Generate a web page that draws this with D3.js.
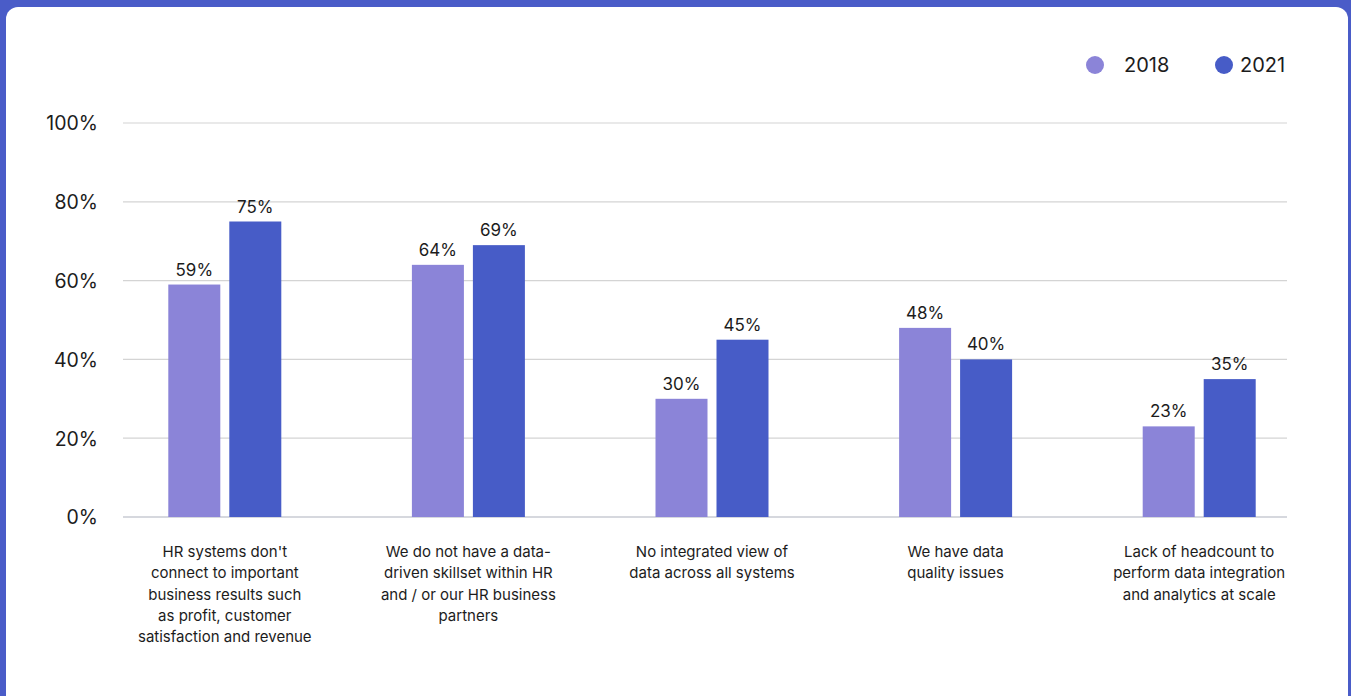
<!DOCTYPE html>
<html>
<head>
<meta charset="utf-8">
<script src="https://cdn.jsdelivr.net/npm/d3@7"></script>
<style>
  html, body { margin: 0; padding: 0; background: #4a5cc8; }
  svg { display: block; }
  text { font-family: Inter, "Noto Sans", sans-serif; fill: #1c1c1c; }
</style>
</head>
<body>
<svg id="chart" width="1351" height="696"></svg>
<script>
// Survey: barriers to HR data analytics, share of respondents
const categories = [
  "HR systems don't connect to important business results such as profit, customer satisfaction and revenue",
  "We do not have a data-driven skillset within HR and / or our HR business partners",
  "No integrated view of data across all systems",
  "We have data quality issues",
  "Lack of headcount to perform data integration and analytics at scale"
];
const categoryLines = [
  ["HR systems don't", "connect to important", "business results such", "as profit, customer", "satisfaction and revenue"],
  ["We do not have a data-", "driven skillset within HR", "and / or our HR business", "partners"],
  ["No integrated view of", "data across all systems"],
  ["We have data", "quality issues"],
  ["Lack of headcount to", "perform data integration", "and analytics at scale"]
];
const seriesNames = ["2018", "2021"];
const values2018 = [59, 64, 30, 48, 23];
const values2021 = [75, 69, 45, 40, 35];
const yTicks = [0, 20, 40, 60, 80, 100];
const colors = ["#8b84d8", "#475cc7"];

const svg = d3.select("#chart");
const W = 1351, H = 696;

// white card on the blue frame
svg.append("rect")
  .attr("x", 6).attr("y", 7)
  .attr("width", 1342).attr("height", H + 20)
  .attr("rx", 12).attr("ry", 12)
  .attr("fill", "#ffffff");

const plot = { left: 123, right: 1287, top: 123, bottom: 517 };

const y = d3.scaleLinear().domain([0, 100]).range([plot.bottom, plot.top]);
const x0 = d3.scaleBand().domain(categories).range([103, 1321]).paddingInner(0).paddingOuter(0);
const x1 = d3.scaleBand().domain(seriesNames).range([-56.5, 56.5]).paddingInner(0.1475).paddingOuter(0);
const color = d3.scaleOrdinal().domain(seriesNames).range(colors);

// gridlines
const grid = svg.append("g").attr("class", "grid");
grid.selectAll("line").data(yTicks).join("line")
  .attr("x1", plot.left).attr("x2", plot.right)
  .attr("y1", d => y(d)).attr("y2", d => y(d))
  .attr("stroke", d => d === 0 ? "#c8cbd3" : "#d4d4d4")
  .attr("stroke-width", d => d === 0 ? 1.6 : 1.2);

// y axis labels
const yAxis = d3.axisLeft(y).tickValues(yTicks).tickFormat(d => d + "%").tickSize(0).tickPadding(0);
const yg = svg.append("g").attr("transform", `translate(98,0)`).call(yAxis);
yg.select(".domain").remove();
yg.selectAll("text")
  .attr("font-size", 19.5)
  .style("font-family", "Inter, 'Noto Sans', sans-serif")
  .attr("fill", "#1c1c1c")
  .attr("dy", "0.35em");

// bars
const rows = categories.map((c, i) => ({
  category: c,
  values: [
    { series: "2018", value: values2018[i] },
    { series: "2021", value: values2021[i] }
  ]
}));

const groups = svg.append("g").selectAll("g").data(rows).join("g")
  .attr("transform", d => `translate(${x0(d.category) + x0.bandwidth() / 2},0)`);

groups.selectAll("rect").data(d => d.values).join("rect")
  .attr("x", d => x1(d.series))
  .attr("width", x1.bandwidth())
  .attr("y", d => y(d.value))
  .attr("height", d => y(0) - y(d.value))
  .attr("fill", d => color(d.series));

groups.selectAll("text.value").data(d => d.values).join("text")
  .attr("class", "value")
  .attr("x", d => x1(d.series) + x1.bandwidth() / 2)
  .attr("y", d => y(d.value) - 9)
  .attr("text-anchor", "middle")
  .attr("font-size", 17)
  .text(d => d.value + "%");

// category labels
groups.each(function (d, i) {
  const t = d3.select(this).append("text")
    .attr("text-anchor", "middle")
    .attr("font-size", 15)
    .attr("y", 557);
  categoryLines[i].forEach((line, j) => {
    t.append("tspan").attr("x", 0).attr("dy", j === 0 ? 0 : 21.3).text(line);
  });
});

// legend
const legend = svg.append("g");
const legendItems = [
  { name: "2018", cx: 1095, tx: 1124 },
  { name: "2021", cx: 1224, tx: 1240 }
];
legend.selectAll("circle").data(legendItems).join("circle")
  .attr("cx", d => d.cx).attr("cy", 65).attr("r", 9)
  .attr("fill", d => color(d.name));
legend.selectAll("text").data(legendItems).join("text")
  .attr("x", d => d.tx).attr("y", 65).attr("dy", "0.36em")
  .attr("font-size", 20)
  .text(d => d.name);
</script>
</body>
</html>
